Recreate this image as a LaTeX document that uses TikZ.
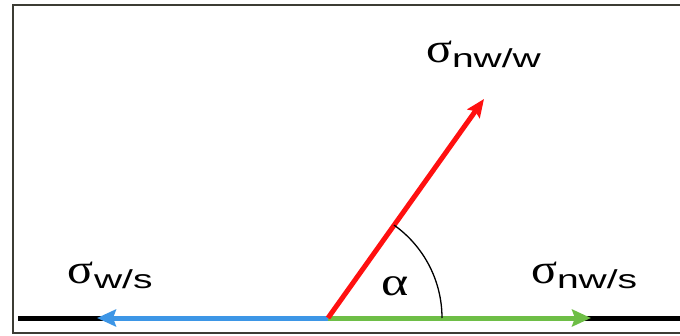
\documentclass[tikz,border=0pt]{standalone}
\usepackage{fontspec}
\setmainfont{Liberation Sans}
\newfontfamily\greekfont{Liberation Serif}
\usetikzlibrary{arrows.meta,calc}
\definecolor{framecol}{HTML}{3C3C34}
\definecolor{bluecol}{HTML}{3D96E6}
\definecolor{greencol}{HTML}{6EBE46}
\definecolor{redcol}{HTML}{FF1010}
\tikzset{
  vec/.style={line width=5pt, -{Stealth[length=19pt,width=17pt,inset=3pt]}},
  lbl/.style={anchor=base west, inner sep=0pt, outer sep=0pt},
}
\newcommand{\sig}{{\greekfont\fontsize{42}{42}\selectfont\scalebox{1.15}[1]{σ}}}
\newcommand{\subtxt}[1]{\raisebox{-5pt}{\fontsize{26}{26}\selectfont\scalebox{1.5}[1]{#1}}}
\begin{document}
\begin{tikzpicture}[x=1pt,y=1pt]
\useasboundingbox (0,0) rectangle (680,335);
\fill[white] (0,0) rectangle (680,335);
% frame
\draw[framecol, line width=2pt] (682,330) -- (13,330) -- (13,2) -- (682,2);
% points
\coordinate (O) at (328,17);
\coordinate (L) at (18,17);
\coordinate (R) at (680,17);
\coordinate (B) at (97,17);
\coordinate (G) at (591,17);
\coordinate (T) at (484,236);
\coordinate (A0) at (442,17);
% baseline
\draw[black, line width=5pt] (L) -- (R);
\draw[vec, bluecol] (O) -- (B);
\draw[vec, greencol] (O) -- (G);
\draw[vec, redcol, -{Stealth[length=18pt,width=15pt,inset=3pt]}] (O) -- (T);
% angle arc
\draw[black, line width=1.3pt] (A0) arc[start angle=0, end angle=54.6, radius=114];
% labels
\node[lbl] (lws) at (67,52) {\sig\hspace{1pt}\subtxt{w/s}};
\node[lbl] (lnws) at (531,52) {\sig\hspace{0pt}\subtxt{nw/s}};
\node[lbl] (lnww) at (426,272) {\sig\hspace{0pt}\subtxt{nw/w}};
\node[inner sep=0pt] (alpha) at (395,49) {\greekfont\fontsize{40}{40}\selectfont\scalebox{1.3}[1]{α}};
\end{tikzpicture}
\end{document}
